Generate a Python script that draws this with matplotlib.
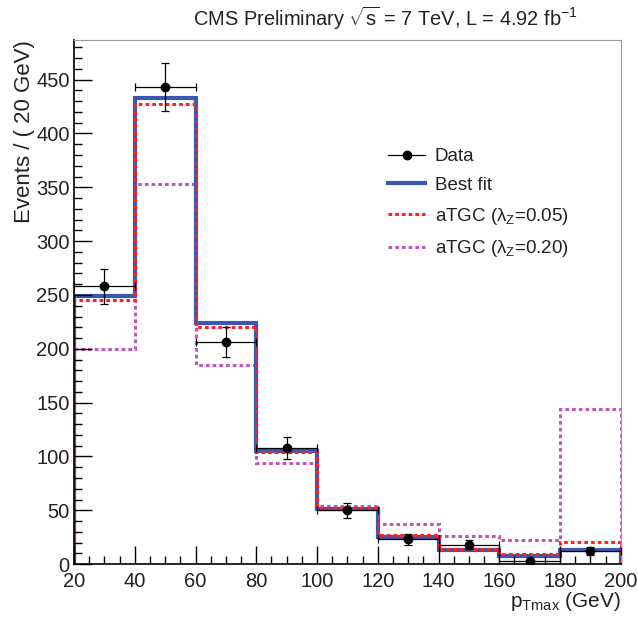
import numpy as np
import matplotlib
matplotlib.use('Agg')
import matplotlib.pyplot as plt
from matplotlib.lines import Line2D
from matplotlib.ticker import MultipleLocator

plt.rcParams['font.family'] = ['Liberation Sans', 'DejaVu Sans']
plt.rcParams['mathtext.fontset'] = 'custom'
plt.rcParams['mathtext.rm'] = 'Liberation Sans'
plt.rcParams['mathtext.it'] = 'Liberation Sans'

# bins in pT max (GeV)
edges = [20, 40, 60, 80, 100, 120, 140, 160, 180, 200]
centers = [30, 50, 70, 90, 110, 130, 150, 170, 190]

data_y = [258, 443, 206, 108, 50, 23, 18, 3, 12]
data_err = [16, 22, 14, 10, 7, 5, 4, 2, 3.5]

best_fit = [249, 433, 224, 105, 51, 25, 13, 8, 13]
atgc_005 = [245, 427, 220, 104, 52, 27, 14, 9, 21]
atgc_020 = [200, 353, 185, 94, 54, 37, 26, 22, 144]

#===============================================================================
fig = plt.figure(figsize=(6.38, 6.22), dpi=100)
ax = fig.add_axes([0.116, 0.093, 0.857, 0.843])

ax.stairs(atgc_020, edges, baseline=0, color='#c455b8', lw=2.2, ls=(0, (1.2, 1.0)),
          label=r'aTGC ($\lambda_Z$=0.20)')
ax.stairs(best_fit, edges, baseline=0, color='#3a58b0', lw=3.0, label='Best fit')
ax.stairs(atgc_005, edges, baseline=0, color='#ff2020', lw=2.2, ls=(0, (1.2, 1.0)),
          label=r'aTGC ($\lambda_Z$=0.05)')

ax.errorbar(centers, data_y, xerr=10, yerr=data_err, fmt='o', color='black',
            ms=6, lw=0.9, capsize=3, capthick=0.9, zorder=5)

ax.set_xlim(20, 200)
ax.set_ylim(0, 487)

ax.xaxis.set_major_locator(MultipleLocator(20))
ax.xaxis.set_minor_locator(MultipleLocator(5))
ax.yaxis.set_major_locator(MultipleLocator(50))
ax.yaxis.set_minor_locator(MultipleLocator(10))
ax.tick_params(which='both', direction='in', top=False, right=False, labelsize=14.5,
               width=1.0, labelcolor='#222222')
ax.tick_params(which='major', length=13)
ax.tick_params(which='minor', length=6)
ax.tick_params(axis='x', pad=6)
ax.tick_params(axis='y', pad=3)

for s in ['top', 'right']:
    ax.spines[s].set_color('#999999')
for s in ['left', 'bottom']:
    ax.spines[s].set_linewidth(1.2)

ax.set_ylabel('Events / ( 20 GeV)', fontsize=16, loc='top', color='#222222')
ax.set_xlabel(r'p$_{\mathrm{Tmax}}$ (GeV)', fontsize=15, loc='right', color='#222222')
ax.yaxis.set_label_coords(-0.072, 1.0)
ax.xaxis.set_label_coords(1.0, -0.05)

fig.text(0.905, 0.948, r'CMS Preliminary $\sqrt{s}$ = 7 TeV, L = 4.92 fb$^{-1}$',
         fontsize=14.4, ha='right', va='bottom', color='#222222')

hs = [Line2D([], [], color='black', marker='o', ms=6, lw=0.9),
      Line2D([], [], color='#3a58b0', lw=3.0),
      Line2D([], [], color='#ff2020', lw=2.2, ls=(0, (1.2, 1.0))),
      Line2D([], [], color='#c455b8', lw=2.2, ls=(0, (1.2, 1.0)))]
labels = ['Data', 'Best fit', r'aTGC ($\lambda_Z$=0.05)', r'aTGC ($\lambda_Z$=0.20)']
leg = ax.legend(hs, labels, loc='upper left', bbox_to_anchor=(0.608, 0.762),
                bbox_transform=fig.transFigure, frameon=False, fontsize=13.5,
                handlelength=2.0, handletextpad=0.5, labelspacing=0.62,
                borderpad=0, borderaxespad=0, numpoints=1)
for t in leg.get_texts():
    t.set_color('#222222')

fig.savefig('out.png', dpi=100)
